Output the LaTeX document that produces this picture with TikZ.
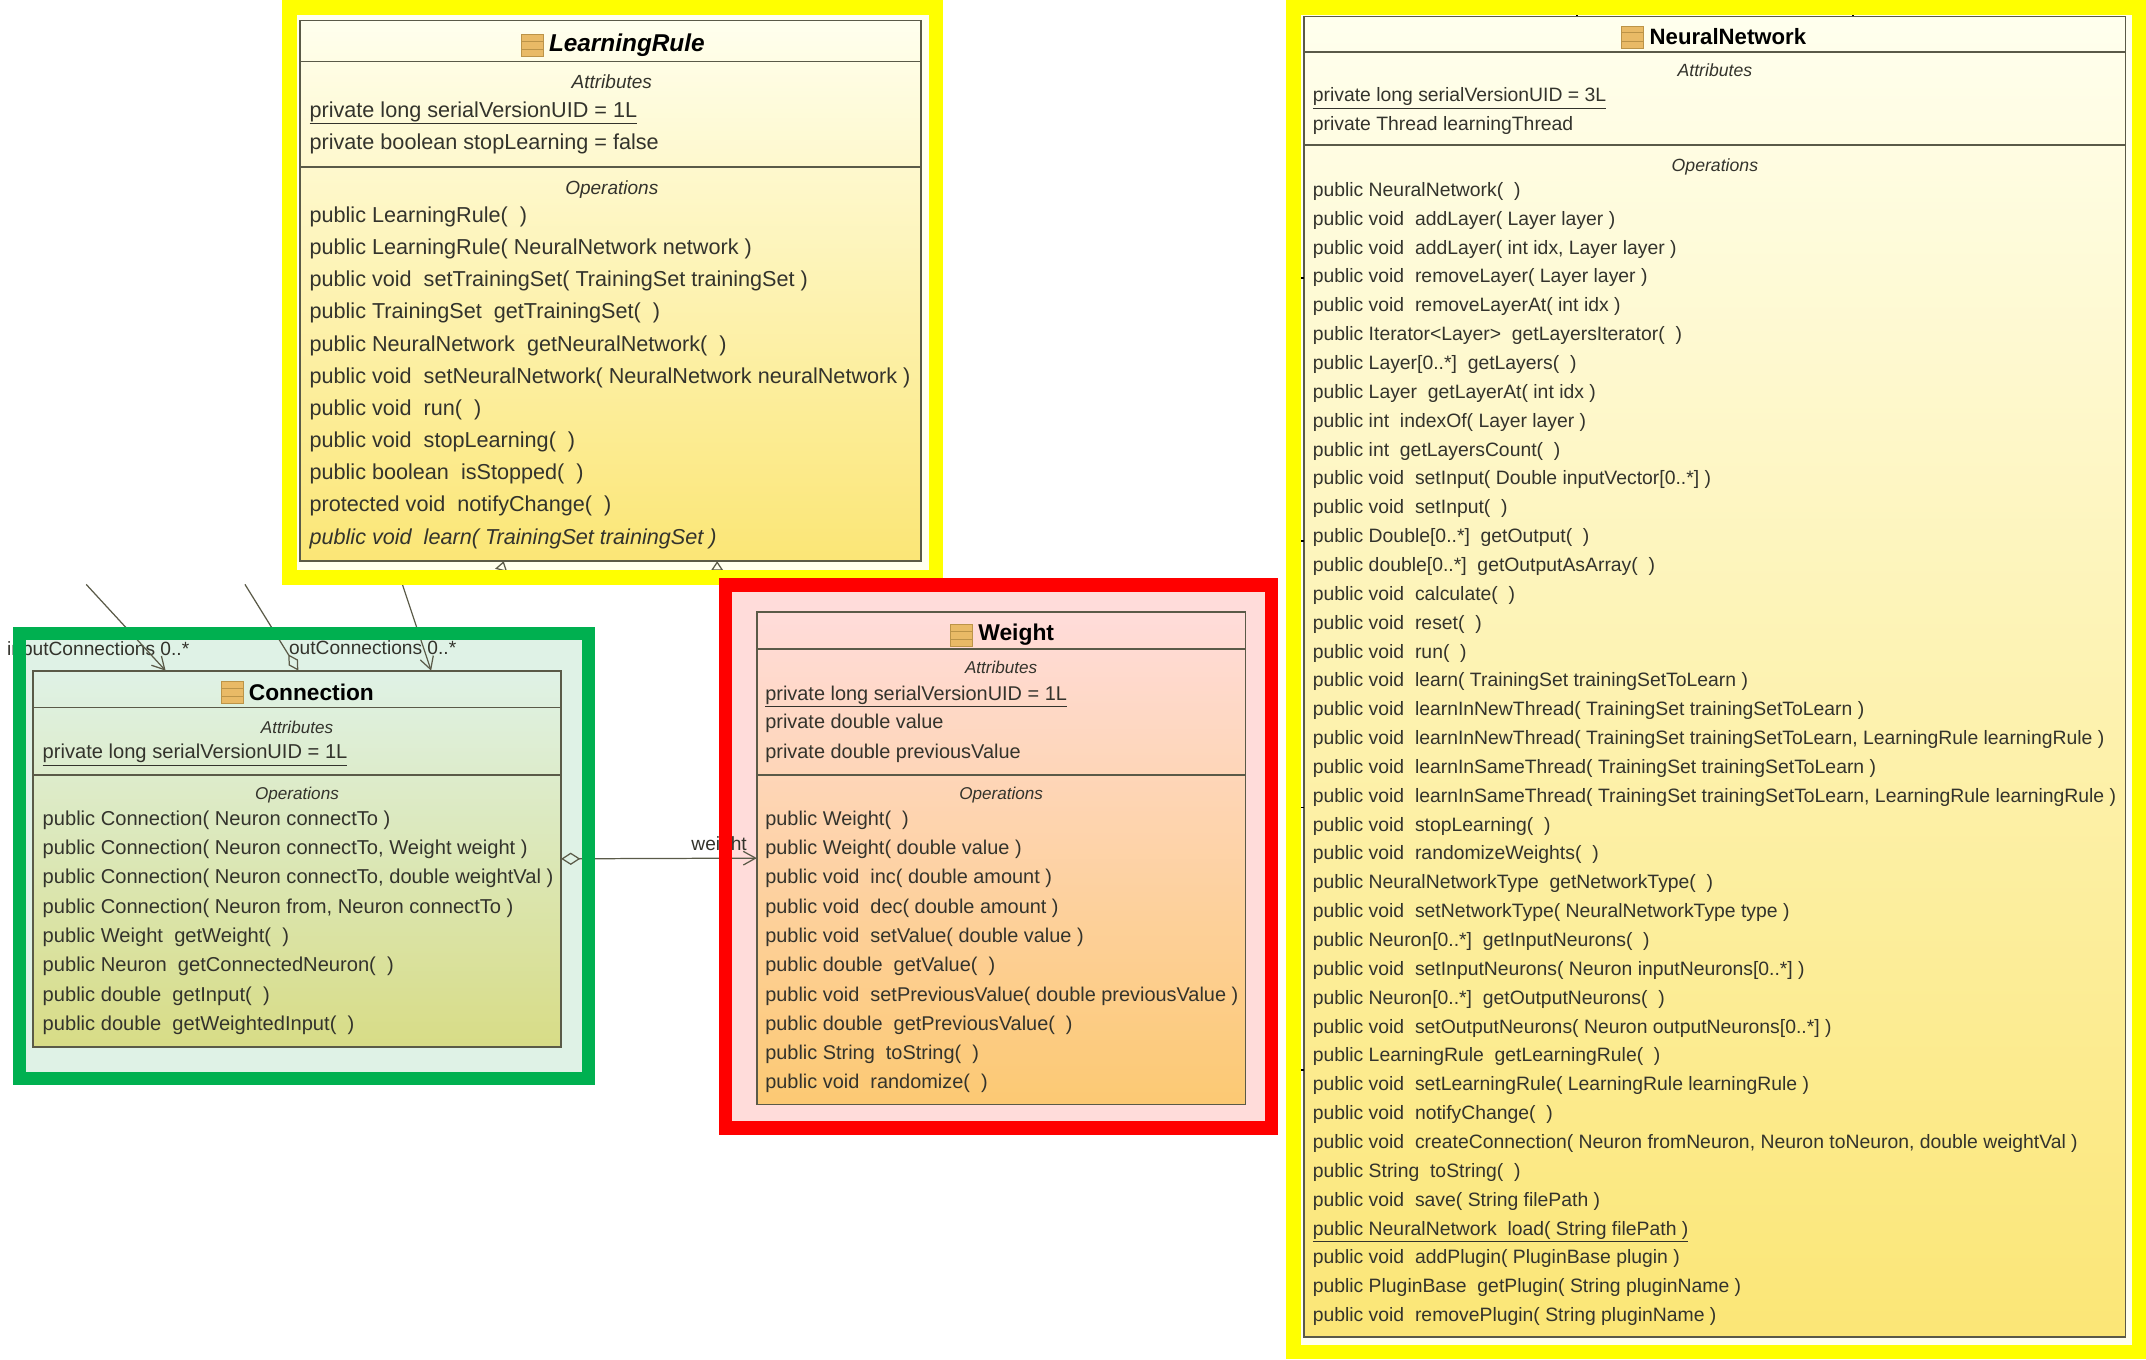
\documentclass[tikz,border=0pt]{standalone}
\usepackage{fontspec}
\setmainfont{Liberation Sans}
\usetikzlibrary{calc}
\usetikzlibrary{positioning}
\usetikzlibrary{arrows.meta}
\definecolor{frameyellow}{HTML}{FFFF00}
\definecolor{framered}{HTML}{FF0000}
\definecolor{framegreen}{HTML}{00B050}
\definecolor{textgrey}{HTML}{33332C}
\definecolor{linegrey}{HTML}{5A5A48}
\definecolor{icontan}{HTML}{E9BA66}
\definecolor{iconedge}{HTML}{BC9448}
\definecolor{paleyellow}{HTML}{FFFFEE}
\definecolor{deepyellow}{HTML}{FBE676}
\definecolor{palegreen}{HTML}{DFF2E6}
\definecolor{olivebottom}{HTML}{D8DC86}
\definecolor{palered}{HTML}{FFDCDA}
\definecolor{orangebottom}{HTML}{FCC973}
\begin{document}
\begin{tikzpicture}[x=1pt,y=-1pt,
  class box/.style={rectangle,draw=linegrey,line width=1.3pt,inner sep=0pt,outer sep=0pt},
  class title/.style={inner sep=0pt,text=black,font=\fontsize{#1}{18}\selectfont\bfseries},
  class icon/.style={rectangle,draw=iconedge,fill=icontan,inner sep=0pt,minimum width=16pt,minimum height=16pt,
    path picture={\draw[iconedge,line width=.6pt] (path picture bounding box.west) ++(0,-3) -- ++(16,0) ++(-16,6) -- ++(16,0);}},
  head line/.style={inner sep=0pt,text=textgrey,font=\fontsize{#1}{14}\selectfont\itshape,text height=9pt,text depth=3pt},
  op line/.style={anchor=west,inner sep=0pt,text=textgrey,font=\fontsize{#1}{16}\selectfont,text height=10pt,text depth=3pt},
  end label/.style={anchor=west,inner sep=0pt,text=textgrey,font=\fontsize{14}{15}\selectfont},
  sep line/.style={draw=linegrey,line width=1.3pt},
  assoc/.style={draw=linegrey,line width=.9pt,-{Straight Barb[length=9pt,width=10pt]}},
  inherit/.style={draw=linegrey,line width=.9pt,-{Triangle[open,length=7pt,width=9pt]}},
  aggr/.style={draw=linegrey,line width=.9pt,{Diamond[open,length=14pt,width=9pt]}-{Straight Barb[length=9pt,width=10pt]}},
  stub/.style={draw=black,line width=1.4pt}]

  \useasboundingbox (0,0) rectangle (1568,993);

  % frame interiors
  \fill[paleyellow] (211.5,5.5) rectangle (684,422);
  \fill[paleyellow] (945,5.5) rectangle (1563,988);
  \fill[palegreen] (14.5,463) rectangle (430,788);
  \fill[palered] (530,427.5) rectangle (929,824);

  % classes
  \node[class box,minimum width=454pt,minimum height=395pt,top color=paleyellow,bottom color=deepyellow] (lr) at (446,212.5) {};
  \node[class box,minimum width=386pt,minimum height=275pt,top color=palegreen,bottom color=olivebottom] (conn) at (217,627.5) {};
  \node[class box,minimum width=357pt,minimum height=360pt,top color=palered,bottom color=orangebottom] (wt) at (731.5,627) {};
  \node[class box,minimum width=600pt,minimum height=965pt,top color=paleyellow,bottom color=deepyellow] (nn) at (1253,494.5) {};

  % connectors
  \coordinate (in a) at (63,427);
  \coordinate (in b) at (179,427);
  \coordinate (in c) at (294,427);
  \coordinate (sub a) at (364,425);
  \coordinate (sub b) at (524,425);
  \node[end label] (in lbl) at (5,475) {inputConnections 0..*};
  \node[end label] (out lbl) at (211,473) {outConnections 0..*};
  \node[end label] (wt lbl) at (505,618) {weight};
  \draw[assoc] (in a) -- ($(conn.north west)+(97,0)$);
  \draw[draw=linegrey,line width=.9pt,-{Diamond[open,length=14pt,width=8pt]}] (in b) -- ($(conn.north west)+(194,0)$);
  \draw[assoc] (in c) -- ($(conn.north west)+(291,0)$);
  \draw[inherit] (sub a) -- ($(lr.south west)+(149,0)$);
  \draw[inherit] (sub b) -- ($(lr.south west)+(305,0)$);
  \draw[aggr] (conn.east) -- (wt.west);
  \foreach \Y in {191,383,578,770} {
    \draw[stub] ($(nn.north west)+(-3,\Y)$) -- ($(nn.north west)+(0,\Y)$);
  }
  \foreach \X in {199,401} {
    \draw[stub] ($(nn.north west)+(\X,-3)$) -- ($(nn.north west)+(\X,0)$);
  }

  % coloured frames
  \draw[frameyellow,line width=10.5pt] (211.5,5.5) rectangle (684,422);
  \draw[frameyellow,line width=10.5pt] (945,5.5) rectangle (1563,988);
  \draw[framegreen,line width=9.5pt] (14.5,463) rectangle (430,788);
  \draw[framered,line width=10pt] (530,427.5) rectangle (929,824);

  % LearningRule
  \node[class title=17.8,font=\fontsize{17.8}{19}\selectfont\bfseries\itshape] (lr title) at ($(lr.north west)+(239,18)$) {LearningRule};
  \node[class icon,left=4pt of lr title] (lr icon) {};
  \draw[sep line] ($(lr.north west)+(0,30)$) -- ($(lr.north east)+(0,30)$);
  \draw[sep line] ($(lr.north west)+(0,107)$) -- ($(lr.north east)+(0,107)$);
  \node[head line=13.9] (lr attr) at ($(lr.north)+(1,47)$) {Attributes};
  \node[head line=13.9] (lr oper) at ($(lr.north)+(1,124)$) {Operations};
  \node[op line=15.8] (lr a1) at ($(lr.north west)+(7,67)$) {\underline{private long serialVersionUID = 1L}};
  \node[op line=15.8] (lr a2) at ($(lr.north west)+(7,91)$) {private boolean stopLearning = false};
  \foreach \T [count=\i from 0] in {
    {public LearningRule(~ )},
    {public LearningRule( NeuralNetwork network )},
    {public void~ setTrainingSet( TrainingSet trainingSet )},
    {public TrainingSet~ getTrainingSet(~ )},
    {public NeuralNetwork~ getNeuralNetwork(~ )},
    {public void~ setNeuralNetwork( NeuralNetwork neuralNetwork )},
    {public void~ run(~ )},
    {public void~ stopLearning(~ )},
    {public boolean~ isStopped(~ )},
    {protected void~ notifyChange(~ )},
    {\itshape public void~ learn( TrainingSet trainingSet )}} {
    \node[op line=15.8] (lr op\i) at ($(lr.north west)+(7,{144+\i*23.5})$) {\T};
  }

  % Connection
  \node[class title=16.6] (conn title) at ($(conn.north west)+(203.5,16)$) {Connection};
  \node[class icon,left=4pt of conn title] (conn icon) {};
  \draw[sep line] ($(conn.north west)+(0,27)$) -- ($(conn.north east)+(0,27)$);
  \draw[sep line] ($(conn.north west)+(0,76)$) -- ($(conn.north east)+(0,76)$);
  \node[head line=12.5] (conn attr) at ($(conn.north)+(0,43)$) {Attributes};
  \node[head line=12.5] (conn oper) at ($(conn.north)+(0,91)$) {Operations};
  \node[op line=14.7] (conn a1) at ($(conn.north west)+(7,61)$) {\underline{private long serialVersionUID = 1L}};
  \foreach \T [count=\i from 0] in {
    {public Connection( Neuron connectTo )},
    {public Connection( Neuron connectTo, Weight weight )},
    {public Connection( Neuron connectTo, double weightVal )},
    {public Connection( Neuron from, Neuron connectTo )},
    {public Weight~ getWeight(~ )},
    {public Neuron~ getConnectedNeuron(~ )},
    {public double~ getInput(~ )},
    {public double~ getWeightedInput(~ )}} {
    \node[op line=14.7] (conn op\i) at ($(conn.north west)+(7,{109.5+\i*21.4})$) {\T};
  }

  % Weight
  \node[class title=16.7] (wt title) at ($(wt.north west)+(189.5,17)$) {Weight};
  \node[class icon,left=4pt of wt title] (wt icon) {};
  \draw[sep line] ($(wt.north west)+(0,27)$) -- ($(wt.north east)+(0,27)$);
  \draw[sep line] ($(wt.north west)+(0,119)$) -- ($(wt.north east)+(0,119)$);
  \node[head line=12.5] (wt attr) at ($(wt.north)+(0,42)$) {Attributes};
  \node[head line=12.5] (wt oper) at ($(wt.north)+(0,134)$) {Operations};
  \node[op line=14.55] (wt a1) at ($(wt.north west)+(6,61)$) {\underline{private long serialVersionUID = 1L}};
  \node[op line=14.55] (wt a2) at ($(wt.north west)+(6,82)$) {private double value};
  \node[op line=14.55] (wt a3) at ($(wt.north west)+(6,104)$) {private double previousValue};
  \foreach \T [count=\i from 0] in {
    {public Weight(~ )},
    {public Weight( double value )},
    {public void~ inc( double amount )},
    {public void~ dec( double amount )},
    {public void~ setValue( double value )},
    {public double~ getValue(~ )},
    {public void~ setPreviousValue( double previousValue )},
    {public double~ getPreviousValue(~ )},
    {public String~ toString(~ )},
    {public void~ randomize(~ )}} {
    \node[op line=14.55] (wt op\i) at ($(wt.north west)+(6,{152.5+\i*21.4})$) {\T};
  }

  % NeuralNetwork
  \node[class title=16.2] (nn title) at ($(nn.north west)+(309.5,15)$) {NeuralNetwork};
  \node[class icon,left=4pt of nn title] (nn icon) {};
  \draw[sep line] ($(nn.north west)+(0,26)$) -- ($(nn.north east)+(0,26)$);
  \draw[sep line] ($(nn.north west)+(0,94)$) -- ($(nn.north east)+(0,94)$);
  \node[head line=12.9] (nn attr) at ($(nn.north)+(0,41)$) {Attributes};
  \node[head line=12.9] (nn oper) at ($(nn.north)+(0,110)$) {Operations};
  \node[op line=14.15] (nn a1) at ($(nn.north west)+(6,59)$) {\underline{private long serialVersionUID = 3L}};
  \node[op line=14.15] (nn a2) at ($(nn.north west)+(6,80)$) {private Thread learningThread};
  \foreach \T [count=\i from 0] in {
    {public NeuralNetwork(~ )},
    {public void~ addLayer( Layer layer )},
    {public void~ addLayer( int idx, Layer layer )},
    {public void~ removeLayer( Layer layer )},
    {public void~ removeLayerAt( int idx )},
    {public Iterator<Layer>~ getLayersIterator(~ )},
    {public Layer[0..*]~ getLayers(~ )},
    {public Layer~ getLayerAt( int idx )},
    {public int~ indexOf( Layer layer )},
    {public int~ getLayersCount(~ )},
    {public void~ setInput( Double inputVector[0..*] )},
    {public void~ setInput(~ )},
    {public Double[0..*]~ getOutput(~ )},
    {public double[0..*]~ getOutputAsArray(~ )},
    {public void~ calculate(~ )},
    {public void~ reset(~ )},
    {public void~ run(~ )},
    {public void~ learn( TrainingSet trainingSetToLearn )},
    {public void~ learnInNewThread( TrainingSet trainingSetToLearn )},
    {public void~ learnInNewThread( TrainingSet trainingSetToLearn, LearningRule learningRule )},
    {public void~ learnInSameThread( TrainingSet trainingSetToLearn )},
    {public void~ learnInSameThread( TrainingSet trainingSetToLearn, LearningRule learningRule )},
    {public void~ stopLearning(~ )},
    {public void~ randomizeWeights(~ )},
    {public NeuralNetworkType~ getNetworkType(~ )},
    {public void~ setNetworkType( NeuralNetworkType type )},
    {public Neuron[0..*]~ getInputNeurons(~ )},
    {public void~ setInputNeurons( Neuron inputNeurons[0..*] )},
    {public Neuron[0..*]~ getOutputNeurons(~ )},
    {public void~ setOutputNeurons( Neuron outputNeurons[0..*] )},
    {public LearningRule~ getLearningRule(~ )},
    {public void~ setLearningRule( LearningRule learningRule )},
    {public void~ notifyChange(~ )},
    {public void~ createConnection( Neuron fromNeuron, Neuron toNeuron, double weightVal )},
    {public String~ toString(~ )},
    {public void~ save( String filePath )},
    {\underline{public NeuralNetwork~ load( String filePath )}},
    {public void~ addPlugin( PluginBase plugin )},
    {public PluginBase~ getPlugin( String pluginName )},
    {public void~ removePlugin( String pluginName )}} {
    \node[op line=14.15] (nn op\i) at ($(nn.north west)+(6,{128+\i*21.08})$) {\T};
  }

\end{tikzpicture}
\end{document}
